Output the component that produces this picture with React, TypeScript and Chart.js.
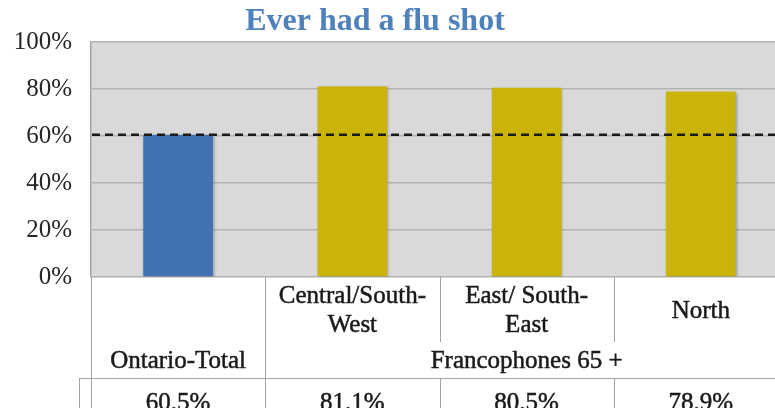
import React, { useEffect, useRef } from "react";
import { Chart, registerables } from "chart.js";

Chart.register(...registerables);

const TITLE = "Ever had a flu shot";
const CATEGORY_KEYS = ["Ontario-Total", "Central/South-West", "East/South-East", "North"];
const VALUES = [60.5, 81.1, 80.5, 78.9];
const VALUE_LABELS = ["60.5%", "81.1%", "80.5%", "78.9%"];
const CATEGORY_LINES = [[], ["Central/South-", "West"], ["East/ South-", "East"], ["North"]];
const GROUP_NAMES = ["Ontario-Total", "Francophones 65 +"];
const GROUP_SPANS = [1, 3];
const REFERENCE_VALUE = 60.5;
const Y_TICKS = [0, 20, 40, 60, 80, 100];
const BAR_COLORS = ["#4372b4", "#cab40a", "#cab40a", "#cab40a"];

const FONT = "'Liberation Serif', 'Times New Roman', serif";
const TEXT_COLOR = "#1a1a1a";
const LINE_COLOR = "#a3a3a3";

const tablePlugin = {
  id: "tablePlugin",
  beforeDraw(chart: any) {
    const { ctx, chartArea } = chart;
    ctx.save();
    ctx.fillStyle = "#d9d9d9";
    ctx.fillRect(chartArea.left, chartArea.top, chartArea.right - chartArea.left, chartArea.bottom - chartArea.top);
    ctx.restore();
  },
  beforeDatasetsDraw(chart: any) {
    const ctx = chart.ctx;
    ctx.save();
    ctx.shadowColor = "rgba(0,0,0,0.35)";
    ctx.shadowOffsetX = 1;
    ctx.shadowOffsetY = 1;
    ctx.shadowBlur = 3;
  },
  afterDatasetsDraw(chart: any) {
    const { ctx, chartArea, scales } = chart;
    ctx.restore();
    const y = scales.y.getPixelForValue(REFERENCE_VALUE);
    ctx.save();
    ctx.strokeStyle = "#1a1a1a";
    ctx.lineWidth = 2.5;
    ctx.setLineDash([8, 5]);
    ctx.beginPath();
    ctx.moveTo(chartArea.left + 1, y);
    ctx.lineTo(chartArea.right, y);
    ctx.stroke();
    ctx.restore();
  },
  afterDraw(chart: any) {
    const { ctx, chartArea, scales } = chart;
    const xs = scales.x;
    const n = CATEGORY_KEYS.length;
    const cw = (chartArea.right - chartArea.left) / n;
    const bottom = chartArea.bottom;
    const H = chart.height;
    const catRowEnd = bottom + 65;
    const groupRowEnd = bottom + 101;

    const text = (s: string, x: number, y: number) => {
      ctx.fillText(s, x, y);
      ctx.strokeText(s, x, y);
    };

    ctx.save();
    // title
    ctx.fillStyle = "#4f81bd";
    ctx.font = `bold 32px ${FONT}`;
    ctx.textAlign = "center";
    ctx.textBaseline = "alphabetic";
    ctx.fillText(TITLE, 375, 30);

    // table lines
    ctx.strokeStyle = LINE_COLOR;
    ctx.lineWidth = 1;
    const vline = (x: number, y1: number, y2: number) => {
      ctx.beginPath();
      ctx.moveTo(Math.round(x) + 0.5, y1);
      ctx.lineTo(Math.round(x) + 0.5, y2);
      ctx.stroke();
    };
    const hline = (x1: number, x2: number, y: number) => {
      ctx.beginPath();
      ctx.moveTo(x1, Math.round(y) + 0.5);
      ctx.lineTo(x2, Math.round(y) + 0.5);
      ctx.stroke();
    };
    let idx = 0;
    GROUP_SPANS.forEach((span) => {
      const gx = xs.getPixelForValue(idx) - cw / 2;
      vline(gx, bottom, H);
      for (let k = 1; k < span; k++) {
        const bx = xs.getPixelForValue(idx + k) - cw / 2;
        vline(bx, bottom, catRowEnd);
        vline(bx, groupRowEnd, H);
      }
      idx += span;
    });
    hline(chartArea.left - 12, chartArea.right, groupRowEnd);
    vline(chartArea.left - 12, groupRowEnd, H);

    // category labels
    ctx.fillStyle = TEXT_COLOR;
    ctx.strokeStyle = TEXT_COLOR;
    ctx.lineWidth = 0.5;
    ctx.font = `25px ${FONT}`;
    ctx.textAlign = "center";
    CATEGORY_LINES.forEach((lines, i) => {
      const cx = xs.getPixelForValue(i);
      if (lines.length === 1) {
        text(lines[0], cx, bottom + 41);
      } else {
        lines.forEach((ln, j) => text(ln, cx, bottom + 26 + j * 29));
      }
    });

    // group labels
    idx = 0;
    GROUP_NAMES.forEach((name, g) => {
      const span = GROUP_SPANS[g];
      const x1 = xs.getPixelForValue(idx) - cw / 2;
      const x2 = xs.getPixelForValue(idx + span - 1) + cw / 2;
      text(name, (x1 + x2) / 2, bottom + 91);
      idx += span;
    });

    // value row
    VALUE_LABELS.forEach((v, i) => {
      text(v, xs.getPixelForValue(i), groupRowEnd + 32);
    });
    ctx.restore();
  },
};

export default function App() {
  const ref = useRef<HTMLCanvasElement>(null);
  useEffect(() => {
    if (!ref.current) return;
    const chart = new Chart(ref.current, {
      type: "bar",
      data: {
        labels: CATEGORY_KEYS,
        datasets: [
          {
            data: VALUES,
            backgroundColor: BAR_COLORS,
            borderWidth: 0,
            barPercentage: 0.4,
            categoryPercentage: 1,
          },
        ],
      },
      options: {
        animation: false,
        responsive: false,
        maintainAspectRatio: false,
        layout: { padding: { top: 42, bottom: 131, left: 0, right: 2 } },
        plugins: {
          legend: { display: false },
          title: { display: false },
          tooltip: { enabled: false },
        },
        scales: {
          x: {
            display: false,
          },
          y: {
            min: 0,
            max: 100,
            afterFit: (scale: any) => {
              scale.width = 91;
            },
            afterBuildTicks: (scale: any) => {
              scale.ticks = Y_TICKS.map((v) => ({ value: v }));
            },
            ticks: {
              padding: 19,
              color: "#262626",
              font: { family: FONT, size: 25 },
              callback: (v: any) => v + "%",
            },
            grid: {
              color: "#b3b3b3",
              drawTicks: false,
              lineWidth: 1.5,
            },
            border: { display: true, color: "#a6a6a6", width: 1.5 },
          },
        },
      },
      plugins: [tablePlugin],
    });
    return () => chart.destroy();
  }, []);
  return (
    <div
      style={{
        position: "fixed",
        left: 0,
        top: 0,
        width: 775,
        height: 408,
        overflow: "hidden",
        background: "#ffffff",
      }}
    >
      <canvas ref={ref} width={790} height={408} style={{ width: 790, height: 408, display: "block" }} />
    </div>
  );
}
